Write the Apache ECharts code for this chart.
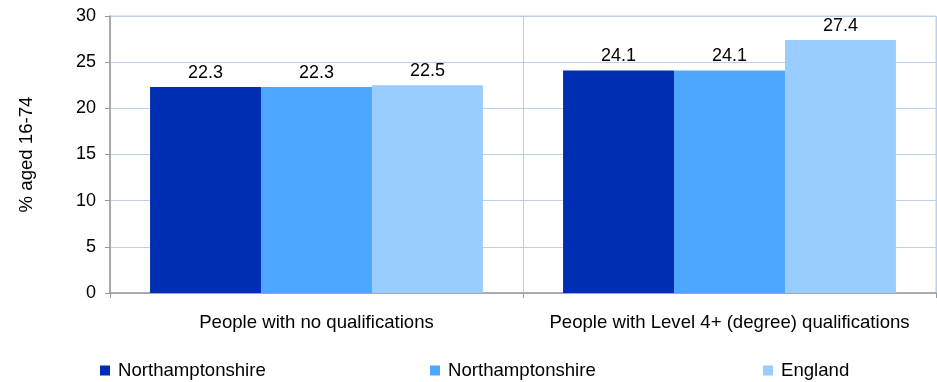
<!DOCTYPE html>
<html><head><meta charset="utf-8">
<script src="https://cdn.jsdelivr.net/npm/echarts@6/dist/echarts.min.js"></script>
<style>html,body{margin:0;padding:0;background:#fff}#c{width:937px;height:382px}</style>
</head><body><div id="c"></div>
<script>
const categories = ['People with no qualifications', 'People with Level 4+ (degree) qualifications'];
const seriesNames = ['Northamptonshire', 'Northamptonshire', 'England'];
const northants1 = [22.3, 24.1];
const northants2 = [22.3, 24.1];
const england = [22.5, 27.4];
const yTicks = [0, 5, 10, 15, 20, 25, 30];

const colors = ['#002EB2', '#4DA6FF', '#99CCFF'];
const values = [northants1, northants2, england];
const font = 'Liberation Sans, Arial, sans-serif';
const chart = echarts.init(document.getElementById('c'));
const legendLeft = [100, 430, 763];
chart.setOption({
  animation: false,
  grid: { left: 110, right: 1, top: 16, bottom: 89, show: true, borderColor: '#BCD0EA', borderWidth: 1 },
  legend: seriesNames.map((n, i) => ({
    data: [{ name: n + (i === 1 ? ' ' : '') }],
    left: legendLeft[i], top: 361, padding: 0, itemWidth: 10, itemHeight: 10, itemGap: 8,
    icon: 'rect', textStyle: { fontFamily: font, fontSize: 18.6, color: '#000', padding: [0, 0, 0, 3] },
    selectedMode: false
  })),
  xAxis: {
    type: 'category', data: categories,
    axisLine: { lineStyle: { color: '#9A9A9A', width: 1.5 } },
    axisTick: { show: true, length: 5, interval: 0, lineStyle: { color: '#9A9A9A' } },
    axisLabel: { fontFamily: font, fontSize: 18.6, color: '#000', margin: 20, interval: 0 },
    splitLine: { show: true, interval: 0, lineStyle: { color: '#BCD0EA' } }
  },
  yAxis: {
    type: 'value', min: yTicks[0], max: yTicks[yTicks.length - 1], interval: 5,
    name: '% aged 16-74', nameLocation: 'middle', nameGap: 74, nameRotate: 90,
    nameTextStyle: { fontFamily: font, fontSize: 18.6, color: '#000' },
    axisLine: { show: true, lineStyle: { color: '#9A9A9A', width: 1.5 } },
    axisTick: { show: true, length: 5, lineStyle: { color: '#9A9A9A' } },
    axisLabel: { fontFamily: font, fontSize: 18, color: '#000', margin: 14 },
    splitLine: { show: true, lineStyle: { color: '#BCD0EA' } }
  },
  series: values.map((v, i) => ({
    type: 'bar', name: seriesNames[i] + (i === 1 ? ' ' : ''), data: v,
    itemStyle: { color: colors[i] },
    barGap: '0%', barCategoryGap: '19.4%',
    label: { show: true, position: 'top', distance: 5, fontFamily: font, fontSize: 18, color: '#000',
      formatter: p => p.value.toFixed(1) }
  }))
});
</script></body></html>
